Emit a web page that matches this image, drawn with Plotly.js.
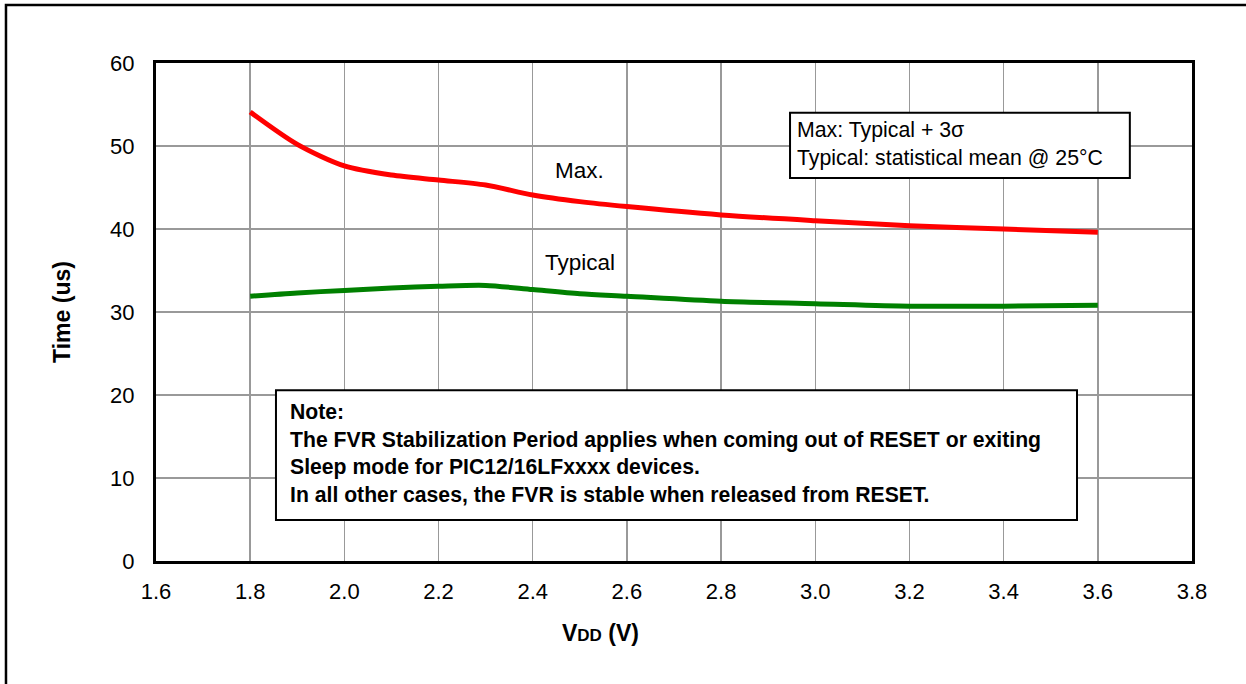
<!DOCTYPE html>
<html>
<head>
<meta charset="utf-8">
<script src="https://cdn.plot.ly/plotly-3.0.1.min.js"></script>
<style>html,body{margin:0;padding:0;background:#fff;}#chart{width:1246px;height:684px;}</style>
</head>
<body>
<div id="chart"></div>
<script>
const vdd = [1.8, 1.9, 2.0, 2.1, 2.2, 2.3, 2.4, 2.5, 2.6, 2.8, 3.0, 3.2, 3.4, 3.6];
const maxTime = [54.1, 50.2, 47.6, 46.5, 45.9, 45.3, 44.1, 43.3, 42.7, 41.7, 41.0, 40.4, 40.0, 39.6];
const typTime = [31.9, 32.3, 32.6, 32.9, 33.1, 33.2, 32.7, 32.2, 31.9, 31.3, 31.0, 30.7, 30.7, 30.8];
const xTicks = [1.6, 1.8, 2.0, 2.2, 2.4, 2.6, 2.8, 3.0, 3.2, 3.4, 3.6, 3.8];
const xTickLabels = ["1.6", "1.8", "2.0", "2.2", "2.4", "2.6", "2.8", "3.0", "3.2", "3.4", "3.6", "3.8"];
const yTicks = [0, 10, 20, 30, 40, 50, 60];

const FONT = "Arial, 'Liberation Sans', sans-serif";

const traces = [
  {x: vdd, y: maxTime, mode: "lines", name: "Max.", line: {color: "#ff0000", width: 5, shape: "spline", smoothing: 0.8}},
  {x: vdd, y: typTime, mode: "lines", name: "Typical", line: {color: "#008000", width: 5, shape: "spline", smoothing: 0.8}}
];

const layout = {
  width: 1246, height: 684,
  margin: {l: 156, r: 54, t: 63, b: 123},
  paper_bgcolor: "#fff", plot_bgcolor: "#fff",
  showlegend: false,
  font: {family: FONT, color: "#000", size: 22},
  xaxis: {
    range: [1.6, 3.8], tickvals: xTicks, ticktext: xTickLabels,
    showgrid: true, gridcolor: "#999", gridwidth: 1.5,
    showline: true, linecolor: "#000", linewidth: 3, mirror: true,
    ticks: "", ticklabelstandoff: 9, zeroline: false,
    tickfont: {size: 22, family: FONT}
  },
  yaxis: {
    range: [0, 60], tickvals: yTicks,
    showgrid: true, gridcolor: "#999", gridwidth: 1.5,
    showline: true, linecolor: "#000", linewidth: 3, mirror: true,
    ticks: "", ticklabelstandoff: 14, zeroline: false,
    tickfont: {size: 22, family: FONT},
    title: {text: "<b>Time (us)</b>", font: {size: 23, family: FONT}, standoff: 34}
  },
  shapes: [
    {type: "rect", xref: "paper", yref: "paper", x0: -0.1448, x1: 1.06, y0: -0.27, y1: 1.1165,
     line: {color: "#000", width: 2.5}, fillcolor: "rgba(0,0,0,0)", layer: "above"},
    {type: "rect", xref: "paper", yref: "paper", x0: 0.1158, x1: 0.889, y0: 0.0823, y1: 0.343,
     line: {color: "#000", width: 2}, fillcolor: "#fff", layer: "above"},
    {type: "rect", xref: "paper", yref: "paper", x0: 0.612, x1: 0.940, y0: 0.769, y1: 0.900,
     line: {color: "#000", width: 2}, fillcolor: "#fff", layer: "above"}
  ],
  annotations: [
    {xref: "x", yref: "y", x: 2.50, y: 47.1, text: "Max.", showarrow: false, font: {size: 22.5, family: FONT}},
    {xref: "x", yref: "y", x: 2.50, y: 36.0, text: "Typical", showarrow: false, font: {size: 22.5, family: FONT}},
    {xref: "paper", yref: "paper", x: 0.6165, y: 0.837, xanchor: "left", yanchor: "middle", align: "left",
     text: "Max: Typical + 3σ<br>Typical: statistical mean @ 25°C", showarrow: false,
     font: {size: 21.3, family: FONT}},
    {xref: "paper", yref: "paper", x: 0.1275, y: 0.216, xanchor: "left", yanchor: "middle", align: "left",
     text: "<b>Note:<br>The FVR Stabilization Period applies when coming out of RESET or exiting<br>Sleep mode for PIC12/16LFxxxx devices.<br>In all other cases, the FVR is stable when released from RESET.</b>",
     showarrow: false, font: {size: 21.2, family: FONT}},
    {xref: "paper", yref: "paper", x: 0.4295, y: -0.145, xanchor: "center", yanchor: "middle",
     text: "<b>V<span style=\"font-size:17px\">DD</span> (V)</b>", showarrow: false,
     font: {size: 23, family: FONT}}
  ]
};

Plotly.newPlot("chart", traces, layout, {displayModeBar: false, staticPlot: true});
</script>
</body>
</html>
